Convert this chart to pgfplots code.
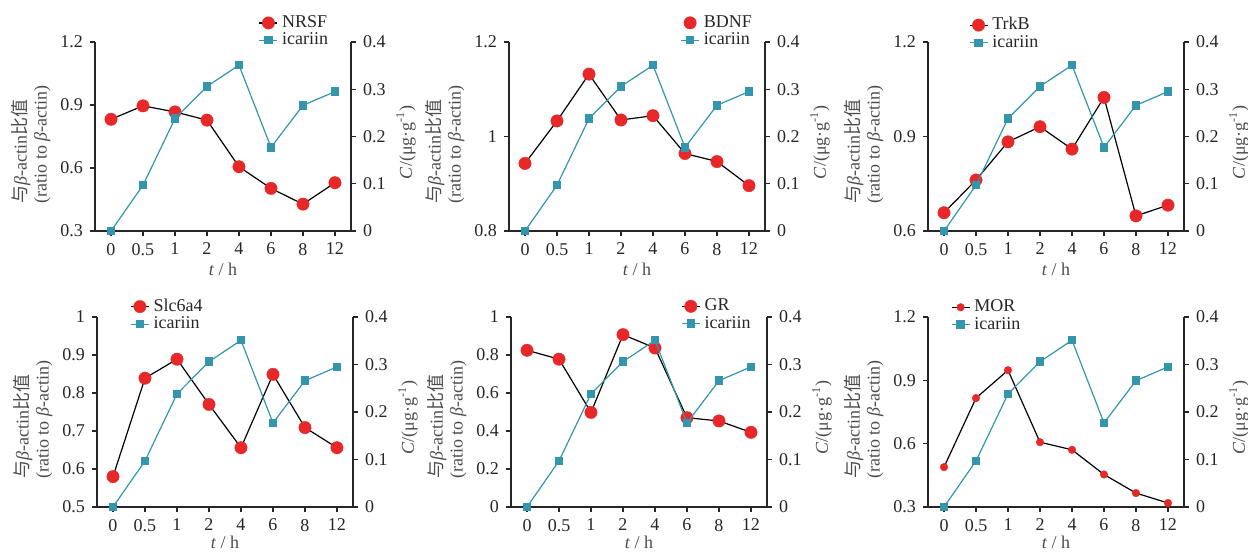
\documentclass[border=0pt]{standalone}
\usepackage{pgfplots}
\pgfplotsset{compat=1.18}
\usepackage{fontspec}
\setmainfont{Liberation Serif}
\newfontfamily\cjk{Noto Sans CJK SC}
\definecolor{gred}{RGB}{232,40,40}
\definecolor{tealc}{RGB}{52,150,172}
\pgfplotsset{
  base/.style={scale only axis, width=128pt, height=94.5pt, xmin=-0.5, xmax=7.5, clip=false,
    tick align=outside, major tick length=2.5pt,
    axis line style={line width=0.6pt, black!85},
    every tick/.style={line width=0.6pt, black!85},
    ticklabel style={font=\fontsize{9}{10}\selectfont, text=black!85},
    label style={font=\fontsize{9}{10}\selectfont, text=black!70},
    /pgf/number format/assume math mode=true,
    legend image code/.code={\draw[mark repeat=2,mark phase=2,##1] plot coordinates {(0pt,0pt) (4.5pt,0pt) (9pt,0pt)};},
    legend style={draw=none, fill=none, font=\fontsize{9}{10}\selectfont, text=black!85, nodes={inner sep=0.6pt}, legend cell align=left,
      /tikz/every odd column/.append style={column sep=1.5pt}},
  },
  leftax/.style={base, axis y line*=left, axis x line*=bottom,
    xtick={0,1,2,3,4,5,6,7}, xticklabels={0,0.5,1,2,4,6,8,12},
    xlabel={\textit{t} / h},
    xlabel style={at={(axis description cs:0.5,-0.205)}, anchor=center},
    ylabel={{\cjk 与}\textit{β}-actin{\cjk 比值}\\(ratio to \textit{β}-actin)},
    ylabel style={at={(axis description cs:-0.25,0.46)}, anchor=center, align=left},
  },
  row2/.style={xlabel style={at={(axis description cs:0.5,-0.188)}, anchor=center}},
  rightax/.style={base, axis y line*=right, axis x line=none,
    ymin=0, ymax=0.4, ytick={0,0.1,0.2,0.3,0.4},
    ylabel={\textit{C}/(μg·g\textsuperscript{-1})},
    ylabel style={at={(axis description cs:1.215,0.47)}, anchor=center},
  },
  gene/.style={black, line width=0.6pt, mark=*, mark size=3.1pt, mark options={draw=gred, fill=gred, line width=0.2pt}},
  ica/.style={tealc, line width=0.6pt, mark=square*, mark size=1.8pt, mark options={draw=tealc, fill=tealc}},
}
\begin{document}
\begin{tikzpicture}
\useasboundingbox (0,0) rectangle (624pt,-276.5pt);
% ---------- Panel 1: NRSF
\begin{axis}[leftax, at={(47.5pt,-115.5pt)}, anchor=south west, ymin=0.3, ymax=1.2, ytick={0.3,0.6,0.9,1.2}]
\addplot[gene] coordinates {(0,0.832) (1,0.896) (2,0.867) (3,0.828) (4,0.606) (5,0.503) (6,0.428) (7,0.530)};
\end{axis}
\begin{axis}[rightax, at={(47.5pt,-115.5pt)}, anchor=south west,
  legend style={at={(axis description cs:0.615,1.17)}, anchor=north west}]
\addlegendimage{gene}\addlegendentry{NRSF}
\addplot[ica] coordinates {(0,0) (1,0.097) (2,0.238) (3,0.306) (4,0.351) (5,0.177) (6,0.266) (7,0.295)};
\addlegendentry{icariin}
\end{axis}
% ---------- Panel 2: BDNF
\begin{axis}[leftax, at={(254.5pt,-115.5pt)}, anchor=south west, ymin=0.8, ymax=1.2, ytick={0.8,1,1.2}]
\addplot[gene] coordinates {(0,0.943) (1,1.033) (2,1.132) (3,1.035) (4,1.044) (5,0.964) (6,0.947) (7,0.896)};
\end{axis}
\begin{axis}[rightax, at={(254.5pt,-115.5pt)}, anchor=south west,
  legend style={at={(axis description cs:0.645,1.17)}, anchor=north west}]
\addlegendimage{gene, only marks}\addlegendentry{BDNF}
\addplot[ica] coordinates {(0,0) (1,0.097) (2,0.238) (3,0.306) (4,0.351) (5,0.177) (6,0.266) (7,0.295)};
\addlegendentry{icariin}
\end{axis}
% ---------- Panel 3: TrkB
\begin{axis}[leftax, at={(464pt,-115.5pt)}, anchor=south west, ymin=0.6, ymax=1.2, ytick={0.6,0.9,1.2}]
\addplot[gene] coordinates {(0,0.658) (1,0.762) (2,0.883) (3,0.931) (4,0.860) (5,1.024) (6,0.648) (7,0.682)};
\end{axis}
\begin{axis}[rightax, at={(464pt,-115.5pt)}, anchor=south west,
  legend style={at={(axis description cs:0.135,1.16)}, anchor=north west}]
\addlegendimage{gene}\addlegendentry{TrkB}
\addplot[ica] coordinates {(0,0) (1,0.097) (2,0.238) (3,0.306) (4,0.351) (5,0.177) (6,0.266) (7,0.295)};
\addlegendentry{icariin}
\end{axis}
% ---------- Panel 4: Slc6a4
\begin{axis}[leftax, row2, at={(48.5pt,-253.5pt)}, anchor=south west, height=95pt, ymin=0.5, ymax=1, ytick={0.5,0.6,0.7,0.8,0.9,1}]
\addplot[gene] coordinates {(0,0.580) (1,0.839) (2,0.889) (3,0.770) (4,0.656) (5,0.849) (6,0.709) (7,0.656)};
\end{axis}
\begin{axis}[rightax, at={(48.5pt,-253.5pt)}, anchor=south west, height=95pt,
  legend style={at={(axis description cs:0.105,1.125)}, anchor=north west}]
\addlegendimage{gene}\addlegendentry{Slc6a4}
\addplot[ica] coordinates {(0,0) (1,0.097) (2,0.238) (3,0.306) (4,0.351) (5,0.177) (6,0.266) (7,0.295)};
\addlegendentry{icariin}
\end{axis}
% ---------- Panel 5: GR
\begin{axis}[leftax, row2, at={(255.5pt,-253.5pt)}, anchor=south west, height=95pt, ymin=0, ymax=1, ytick={0,0.2,0.4,0.6,0.8,1}]
\addplot[gene] coordinates {(0,0.825) (1,0.778) (2,0.498) (3,0.907) (4,0.837) (5,0.470) (6,0.453) (7,0.393)};
\end{axis}
\begin{axis}[rightax, at={(255.5pt,-253.5pt)}, anchor=south west, height=95pt,
  legend style={at={(axis description cs:0.64,1.125)}, anchor=north west}]
\addlegendimage{gene}\addlegendentry{GR}
\addplot[ica] coordinates {(0,0) (1,0.097) (2,0.238) (3,0.306) (4,0.351) (5,0.177) (6,0.266) (7,0.295)};
\addlegendentry{icariin}
\end{axis}
% ---------- Panel 6: MOR
\begin{axis}[leftax, row2, at={(464pt,-253.5pt)}, anchor=south west, height=95pt, ymin=0.3, ymax=1.2, ytick={0.3,0.6,0.9,1.2}]
\addplot[gene, mark size=1.9pt] coordinates {(0,0.489) (1,0.816) (2,0.948) (3,0.607) (4,0.571) (5,0.454) (6,0.366) (7,0.319)};
\end{axis}
\begin{axis}[rightax, at={(464pt,-253.5pt)}, anchor=south west, height=95pt,
  legend style={at={(axis description cs:0.065,1.12)}, anchor=north west}]
\addlegendimage{gene, mark size=1.9pt}\addlegendentry{MOR}
\addplot[ica] coordinates {(0,0) (1,0.097) (2,0.238) (3,0.306) (4,0.351) (5,0.177) (6,0.266) (7,0.295)};
\addlegendentry{icariin}
\end{axis}
\end{tikzpicture}
\end{document}
